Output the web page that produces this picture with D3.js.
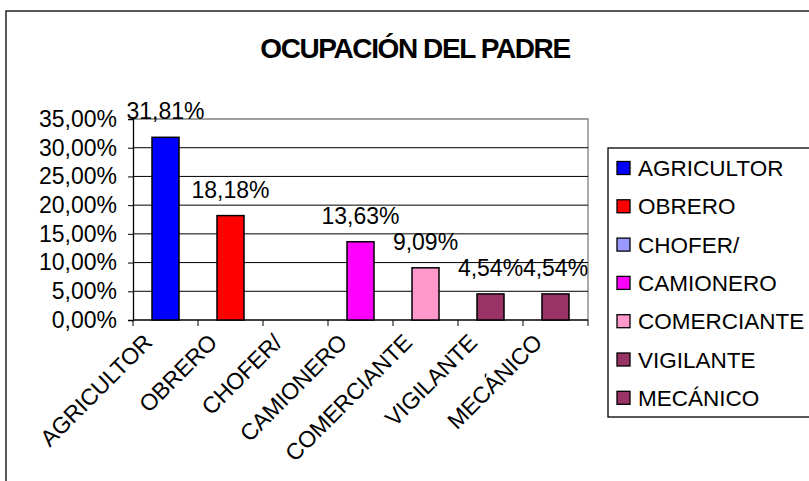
<!DOCTYPE html>
<html><head><meta charset="utf-8">
<script src="https://cdn.jsdelivr.net/npm/d3@7"></script>
<style>
html,body{margin:0;padding:0;background:#fff;}
text{font-family:"Liberation Sans",Arial,sans-serif;fill:#000;}
</style></head>
<body>
<svg id="chart" width="809" height="481"></svg>
<script>
const categories = ["AGRICULTOR","OBRERO","CHOFER/","CAMIONERO","COMERCIANTE","VIGILANTE","MECÁNICO"];
const values = [0.3181, 0.1818, null, 0.1363, 0.0909, 0.0454, 0.0454];
const valueLabels = ["31,81%","18,18%","","13,63%","9,09%","4,54%","4,54%"];
const colors = ["#0000FF","#FF0000","#9999FF","#FF00FF","#FF99CC","#993366","#993366"];
const yTicks = [0,0.05,0.10,0.15,0.20,0.25,0.30,0.35];
const yTickLabels = ["0,00%","5,00%","10,00%","15,00%","20,00%","25,00%","30,00%","35,00%"];
const title = "OCUPACIÓN DEL PADRE";

const svg = d3.select("#chart");
// outer chart border
svg.append("rect").attr("x",6).attr("y",11).attr("width",820).attr("height",500)
  .attr("fill","#fff").attr("stroke","#000").attr("stroke-width",1.3);

const L=133,R=588,T=119,B=320;
const x = d3.scaleBand().domain(categories).range([L,R]).padding(0);
const y = d3.scaleLinear().domain([0,0.35]).range([B,T]);

// title
svg.append("text").attr("x",415).attr("y",58).attr("text-anchor","middle")
  .style("font-size","28px").style("font-weight","bold").style("letter-spacing","-1.4px")
  .text(title);

// plot border (gray)
svg.append("path").attr("d",`M${L},${T}H${R}V${B}`).attr("fill","none").attr("stroke","#808080").attr("stroke-width",1.3);

// gridlines
svg.append("g").selectAll("line").data(yTicks.filter(t=>t>0 && t<0.35)).join("line")
  .attr("x1",L).attr("x2",R).attr("y1",d=>y(d)).attr("y2",d=>y(d))
  .attr("stroke","#000").attr("stroke-width",1);

// y axis
const yAxis = d3.axisLeft(y).tickValues(yTicks).tickSize(5)
  .tickFormat((d,i)=>yTickLabels[i]);
const gy = svg.append("g").attr("transform",`translate(${L},0)`).call(yAxis);
gy.select(".domain").attr("stroke","#000").attr("stroke-width",1.3);
gy.selectAll(".tick line").attr("stroke","#000");
gy.selectAll(".tick text").attr("x",-16).style("font-size","23px").style("font-family","'Liberation Sans',Arial,sans-serif").attr("fill","#000");

// x axis
const gx = svg.append("g").attr("transform",`translate(0,${B})`);
gx.append("line").attr("x1",L).attr("x2",R).attr("y1",0).attr("y2",0).attr("stroke","#000").attr("stroke-width",1.3);
const bounds = categories.map(c=>x(c)).concat([R]);
gx.selectAll("line.tk").data(bounds).join("line").attr("class","tk")
  .attr("x1",d=>d).attr("x2",d=>d).attr("y1",0).attr("y2",6).attr("stroke","#000");
gx.selectAll("text").data(categories).join("text")
  .attr("transform",d=>`translate(${x(d)+x.bandwidth()/2-12},${24}) rotate(-45)`)
  .attr("text-anchor","end").style("font-size","23px").style("letter-spacing","-0.2px")
  .text(d=>d);

// bars
const bw = 27;
const data = categories.map((c,i)=>({c,v:values[i],lab:valueLabels[i],col:colors[i]}));
svg.append("g").selectAll("rect").data(data.filter(d=>d.v!=null)).join("rect")
  .attr("x",d=>x(d.c)+x.bandwidth()/2-bw/2).attr("width",bw)
  .attr("y",d=>y(d.v)).attr("height",d=>B-y(d.v))
  .attr("fill",d=>d.col).attr("stroke","#000").attr("stroke-width",1.5);

// value labels
svg.append("g").selectAll("text").data(data.filter(d=>d.v!=null)).join("text")
  .attr("x",d=>x(d.c)+x.bandwidth()/2).attr("y",d=>y(d.v)-18)
  .attr("text-anchor","middle").style("font-size","23px").text(d=>d.lab);

// legend
const lg = svg.append("g");
lg.append("rect").attr("x",608).attr("y",148).attr("width",230).attr("height",269)
  .attr("fill","#fff").attr("stroke","#000").attr("stroke-width",1.3);
const rows = lg.selectAll("g.row").data(data).join("g").attr("class","row")
  .attr("transform",(d,i)=>`translate(0,${168+i*38.3})`);
rows.append("rect").attr("x",617).attr("y",-6.5).attr("width",13).attr("height",13)
  .attr("fill",d=>d.col).attr("stroke","#000").attr("stroke-width",1.3);
rows.append("text").attr("x",638).attr("y",8).style("font-size","22.5px").text(d=>d.c);
</script>
</body></html>
